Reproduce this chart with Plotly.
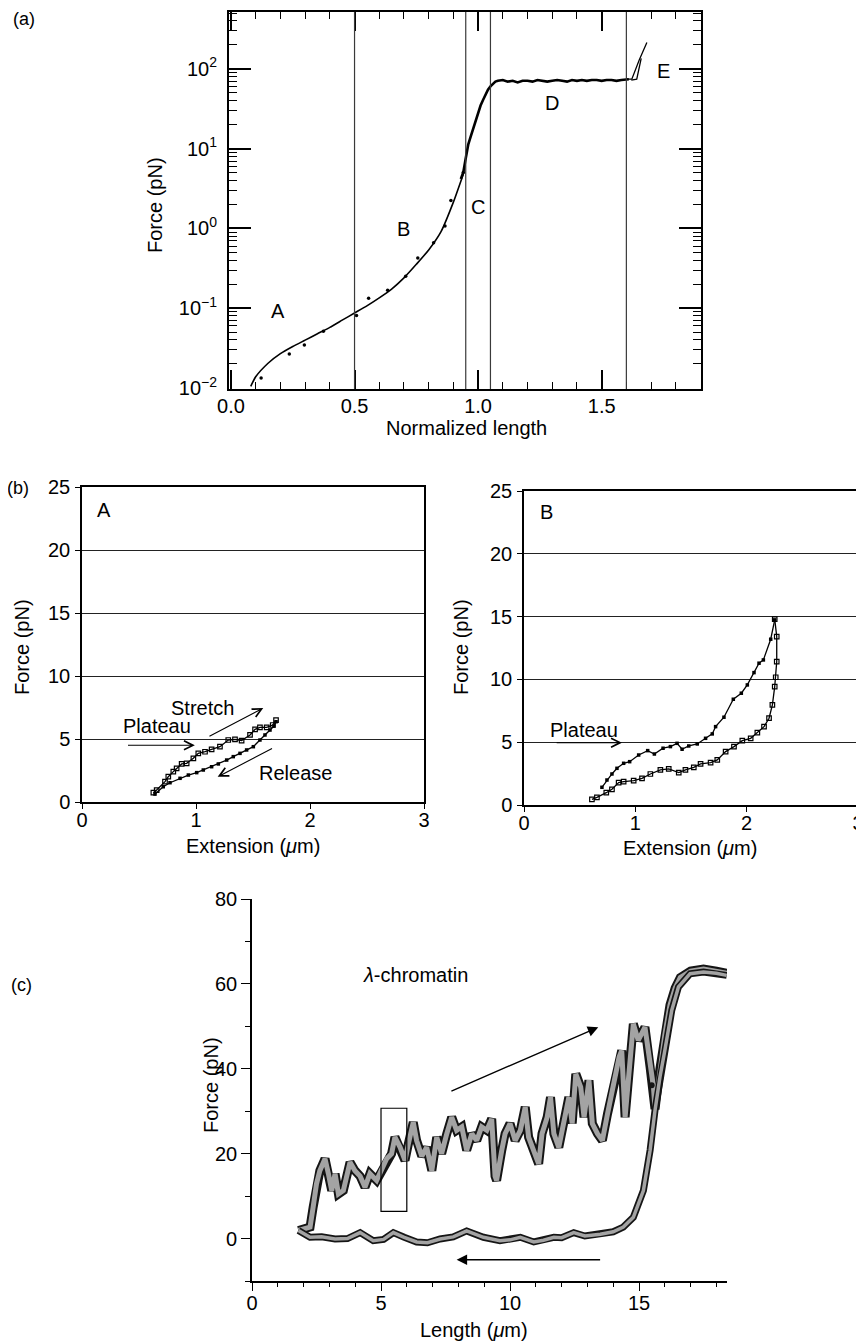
import numpy as np
import plotly.graph_objects as go

# The page body adds an 8 px margin, so the figure is 8 px smaller than the window
OFF = 8
W, H = 864 - OFF, 1343 - OFF
FONT = "Liberation Sans, Arial, Helvetica, sans-serif"
FS = 20

# ---------------- (a) data ----------------
a_fit_x = [0.08, 0.1, 0.15, 0.2, 0.25, 0.3, 0.35, 0.4, 0.45, 0.5, 0.55, 0.6,
           0.65, 0.7, 0.75, 0.8, 0.85, 0.9, 0.94]
a_fit_logf = [-1.98, -1.86, -1.69, -1.57, -1.48, -1.40, -1.32, -1.24, -1.15, -1.06,
              -0.97, -0.87, -0.76, -0.62, -0.45, -0.27, -0.04, 0.33, 0.68]
a_dots_x = [0.122, 0.236, 0.297, 0.374, 0.508, 0.557, 0.634, 0.707, 0.756,
            0.82, 0.866, 0.89, 0.94]
a_dots_logf = [-1.875, -1.575, -1.46, -1.29, -1.09, -0.875, -0.775, -0.60, -0.37,
               -0.18, 0.03, 0.35, 0.70]
a_data_x = [0.93, 0.94, 0.95, 0.96, 0.97, 0.98, 0.99, 1.0, 1.01, 1.02, 1.03, 1.04,
            1.05, 1.06, 1.07, 1.08, 1.10, 1.12, 1.14, 1.16, 1.18, 1.20, 1.22, 1.24,
            1.26, 1.28, 1.30, 1.32, 1.34, 1.36, 1.38, 1.40, 1.42, 1.44, 1.46, 1.48,
            1.50, 1.52, 1.54, 1.56, 1.58, 1.60, 1.61]
a_data_logf = [0.62, 0.70, 0.88, 1.05, 1.15, 1.25, 1.36, 1.46, 1.54, 1.61, 1.68, 1.74,
               1.78, 1.81, 1.84, 1.85, 1.86, 1.84, 1.85, 1.83, 1.85, 1.85, 1.84, 1.86,
               1.85, 1.84, 1.85, 1.86, 1.85, 1.84, 1.86, 1.85, 1.86, 1.85, 1.86, 1.86,
               1.85, 1.86, 1.86, 1.85, 1.86, 1.87, 1.87]
a_e_up_x = [1.60, 1.622, 1.652, 1.683]
a_e_up_logf = [1.87, 1.87, 2.11, 2.33]
a_e_down_x = [1.66, 1.642, 1.62]
a_e_down_logf = [2.13, 1.87, 1.86]
a_region_bounds = [0.5, 0.95, 1.05, 1.6]
a_labels = ["A", "B", "C", "D", "E"]
a_label_x = [0.192, 0.70, 1.0, 1.30, 1.75]
a_label_logf = [-1.03, -0.01, 0.27, 1.57, 1.97]
a_xticks = [0.0, 0.5, 1.0, 1.5]
a_xticktext = ["0.0", "0.5", "1.0", "1.5"]
a_yticks = [0.01, 0.1, 1, 10, 100]
a_yticktext = ["10<sup>\u22122</sup>", "10<sup>\u22121</sup>", "10<sup>0</sup>",
               "10<sup>1</sup>", "10<sup>2</sup>"]

# ---------------- (b) data ----------------
bA_stretch_x = [0.626, 0.655, 0.728, 0.757, 0.801, 0.83, 0.874, 0.918, 0.977, 1.02,
                1.079, 1.137, 1.21, 1.283, 1.342, 1.40, 1.474, 1.518, 1.561, 1.62,
                1.673, 1.702]
bA_stretch_y = [0.74, 0.95, 1.61, 2.01, 2.41, 2.67, 3.02, 3.07, 3.47, 3.86,
                3.99, 4.18, 4.39, 4.92, 4.97, 4.87, 5.32, 5.77, 5.93, 5.93,
                6.11, 6.50]
bA_release_x = [0.64, 0.713, 0.772, 0.86, 0.933, 1.006, 1.064, 1.137, 1.196, 1.269,
                1.327, 1.386, 1.444, 1.503, 1.561, 1.605, 1.649, 1.684, 1.702]
bA_release_y = [0.63, 1.21, 1.53, 1.88, 2.14, 2.33, 2.54, 2.80, 3.02, 3.33,
                3.60, 3.86, 4.13, 4.39, 4.92, 5.32, 5.71, 6.03, 6.37]

bB_upper_x = [0.70, 0.745, 0.79, 0.835, 0.895, 0.949, 1.03, 1.111, 1.171, 1.249,
              1.315, 1.375, 1.42, 1.48, 1.556, 1.631, 1.691, 1.721, 1.796, 1.88,
              1.952, 2.006, 2.066, 2.111, 2.15, 2.216, 2.252]
bB_upper_y = [1.41, 1.99, 2.47, 2.92, 3.32, 3.45, 3.98, 4.33, 4.06, 4.52,
              4.65, 4.91, 4.44, 4.70, 4.86, 5.31, 5.66, 6.24, 6.99, 8.42,
              8.90, 9.56, 10.54, 11.29, 11.55, 13.20, 14.74]
bB_lower_x = [0.61, 0.655, 0.739, 0.79, 0.85, 0.895, 0.985, 1.06, 1.135, 1.225,
              1.30, 1.39, 1.45, 1.525, 1.586, 1.676, 1.736, 1.811, 1.886, 1.961,
              2.036, 2.096, 2.156, 2.201, 2.231, 2.252, 2.261, 2.27, 2.27, 2.252]
bB_lower_y = [0.45, 0.61, 0.98, 1.25, 1.78, 1.86, 1.94, 2.12, 2.47, 2.79,
              2.87, 2.58, 2.79, 3.00, 3.27, 3.37, 3.59, 4.25, 4.65, 5.12,
              5.31, 5.76, 6.24, 6.91, 7.97, 9.43, 10.17, 11.42, 13.41, 14.80]
b_ticks_x = [0, 1, 2, 3]
b_ticks_y = [0, 5, 10, 15, 20, 25]

# ---------------- (c) data ----------------
c_stretch_x = [1.80, 2.25, 2.37, 2.50, 2.63, 2.83, 2.96, 3.09, 3.22, 3.35, 3.54, 3.67,
               3.80, 3.99, 4.19, 4.38, 4.57, 4.83, 5.03, 5.22, 5.41, 5.54, 5.74, 5.93,
               6.06, 6.25, 6.38, 6.58, 6.77, 6.97, 7.16, 7.35, 7.55, 7.74, 7.93, 8.13,
               8.32, 8.52, 8.71, 8.90, 9.10, 9.29, 9.42, 9.48, 9.68, 9.81, 10.0, 10.2,
               10.4, 10.59, 10.72, 10.92, 11.11, 11.24, 11.44, 11.57, 11.70, 11.89,
               12.09, 12.28, 12.41, 12.55, 12.74, 12.87, 13.06, 13.19, 13.39, 13.58,
               13.78, 14.04, 14.23, 14.33, 14.46, 14.78, 14.97, 15.23, 15.43, 15.56,
               15.62, 15.81, 16.0, 16.2, 16.4, 16.6, 17.0, 17.5, 18.0, 18.4]
c_stretch_y = [1.9, 2.7, 7.4, 12.9, 16.0, 18.8, 15.3, 11.3, 15.3, 10.5, 11.3, 15.3,
               18.0, 16.0, 14.7, 12.1, 15.3, 13.7, 16.0, 18.8, 20.0, 23.9, 21.5, 18.4,
               22.3, 27.4, 23.1, 19.4, 21.5, 16.0, 23.9, 20.0, 24.7, 28.6, 25.5, 26.3,
               20.8, 24.7, 23.1, 26.3, 25.5, 28.2, 14.7, 13.7, 20.8, 24.7, 27.1, 23.1,
               25.5, 31.0, 23.9, 20.8, 17.6, 24.7, 28.6, 33.3, 24.7, 21.5,
               27.1, 33.3, 27.1, 38.8, 35.7, 28.6, 37.3, 27.1, 24.7, 23.1,
               29.4, 37.3, 42.8, 44.3, 28.6, 50.6, 46.7, 49.8, 40.4, 35.7,
               30.5, 40.0, 48.0, 55.0, 59.0, 61.5, 63.0, 63.5, 63.0, 62.5]
c_release_x = [18.4, 18.0, 17.5, 16.98, 16.53, 16.27, 16.0, 15.81, 15.62, 15.43,
               15.17, 14.78, 14.39, 14.0, 13.5, 12.9, 12.47, 12.0, 11.70, 11.3,
               10.92, 10.4, 10.0, 9.61, 8.97, 8.32, 7.8, 7.29, 6.8, 6.38,
               5.9, 5.48, 5.1, 4.7, 4.19, 3.7, 3.22, 2.7, 2.25, 1.8]
c_release_y = [62.0, 62.5, 62.8, 62.4, 59.3, 53.8, 44.3, 38.0, 30.2, 20.8,
               11.3, 5.0, 2.7, 1.6, 1.0, 0.6, 1.4, 0.2, 0.3, -0.4,
               -0.8, 0.3, -0.3, -0.5, 0.3, 1.8, 0.4, -0.1, -1.0, -0.8,
               0.3, 1.4, -0.2, -0.5, 1.4, 0.0, -0.1, 0.4, 0.3, 1.9]
c_stray_x = [15.49]
c_stray_y = [36.1]
c_box = [5.0, 6.0, 6.4, 30.7]  # x0, x1, y0, y1
c_ticks_x = [0, 5, 10, 15]
c_ticks_y = [0, 20, 40, 60, 80]


def pw(px):
    return (px - OFF) / W


def ph(py):
    return 1 - (py - OFF) / H


fig = go.Figure()
black = "black"

# ---- (a) traces ----
fig.add_trace(go.Scatter(x=a_fit_x, y=10 ** np.array(a_fit_logf), mode="lines",
                         line=dict(color=black, width=1.6, shape="spline", smoothing=0.6),
                         xaxis="x", yaxis="y"))
fig.add_trace(go.Scatter(x=a_dots_x, y=10 ** np.array(a_dots_logf), mode="markers",
                         marker=dict(color=black, size=3.5), xaxis="x", yaxis="y"))
fig.add_trace(go.Scatter(x=a_data_x, y=10 ** np.array(a_data_logf), mode="lines",
                         line=dict(color=black, width=2.6), xaxis="x", yaxis="y"))
fig.add_trace(go.Scatter(x=a_e_up_x, y=10 ** np.array(a_e_up_logf), mode="lines",
                         line=dict(color=black, width=1.3), xaxis="x", yaxis="y"))
fig.add_trace(go.Scatter(x=a_e_down_x, y=10 ** np.array(a_e_down_logf), mode="lines",
                         line=dict(color=black, width=1.3), xaxis="x", yaxis="y"))

# ---- (b) traces ----
fig.add_trace(go.Scatter(x=bA_stretch_x, y=bA_stretch_y, mode="lines+markers",
                         line=dict(color=black, width=1.3),
                         marker=dict(symbol="square-open", size=4.5, color=black,
                                     line=dict(width=1.2)),
                         xaxis="x2", yaxis="y2"))
fig.add_trace(go.Scatter(x=bA_release_x, y=bA_release_y, mode="lines+markers",
                         line=dict(color=black, width=1.3),
                         marker=dict(symbol="square", size=3.5, color=black),
                         xaxis="x2", yaxis="y2"))
fig.add_trace(go.Scatter(x=bB_upper_x, y=bB_upper_y, mode="lines+markers",
                         line=dict(color=black, width=1.3),
                         marker=dict(symbol="square", size=3.5, color=black),
                         xaxis="x3", yaxis="y3"))
fig.add_trace(go.Scatter(x=bB_lower_x, y=bB_lower_y, mode="lines+markers",
                         line=dict(color=black, width=1.3),
                         marker=dict(symbol="square-open", size=4.5, color=black,
                                     line=dict(width=1.2)),
                         xaxis="x3", yaxis="y3"))

# ---- (c) traces ----
band_dark = "#151515"
band_grey = "#a3a3a3"
fig.add_trace(go.Scatter(x=c_stretch_x, y=c_stretch_y, mode="lines",
                         line=dict(color=band_dark, width=9), xaxis="x4", yaxis="y4"))
fig.add_trace(go.Scatter(x=c_stretch_x, y=c_stretch_y, mode="lines",
                         line=dict(color=band_grey, width=5), xaxis="x4", yaxis="y4"))
fig.add_trace(go.Scatter(x=c_release_x, y=c_release_y, mode="lines",
                         line=dict(color=band_dark, width=7), xaxis="x4", yaxis="y4"))
fig.add_trace(go.Scatter(x=c_release_x, y=c_release_y, mode="lines",
                         line=dict(color=band_grey, width=3.5), xaxis="x4", yaxis="y4"))
fig.add_trace(go.Scatter(x=c_stray_x, y=c_stray_y, mode="markers",
                         marker=dict(color=band_dark, size=6), xaxis="x4", yaxis="y4"))

# ---- shapes ----
shapes = []
for xb in a_region_bounds:
    shapes.append(dict(type="line", xref="x", yref="y domain", x0=xb, x1=xb, y0=0, y1=1,
                       line=dict(color="#3a3a3a", width=1.2)))
shapes.append(dict(type="rect", xref="x4", yref="y4", x0=c_box[0], x1=c_box[1],
                   y0=c_box[2], y1=c_box[3], line=dict(color=black, width=1.2)))

# ---- annotations ----
ann = []
tf = dict(family=FONT, size=FS, color=black)
cen = dict(xanchor="center", yanchor="middle", showarrow=False)
for lab, lx, ly in zip(a_labels, a_label_x, a_label_logf):
    ann.append(dict(text=lab, x=lx, y=ly, xref="x", yref="y", font=tf, **cen))

# panel labels
pf = dict(family=FONT, size=18, color=black)
ann.append(dict(text="(a)", x=pw(24), y=ph(19), xref="paper", yref="paper", font=pf, **cen))
ann.append(dict(text="(b)", x=pw(18), y=ph(488), xref="paper", yref="paper", font=pf, **cen))
ann.append(dict(text="(c)", x=pw(22), y=ph(985), xref="paper", yref="paper", font=pf, **cen))

# axis titles
ann.append(dict(text="Force (pN)", x=pw(155), y=ph(205), xref="paper", yref="paper",
                textangle=-90, font=tf, **cen))
ann.append(dict(text="Normalized length", x=pw(466), y=ph(428), xref="paper", yref="paper",
                font=tf, **cen))
ann.append(dict(text="Force (pN)", x=pw(22), y=ph(647), xref="paper", yref="paper",
                textangle=-90, font=tf, **cen))
ann.append(dict(text="Extension (<i>\u03bc</i>m)", x=pw(253), y=ph(846), xref="paper",
                yref="paper", font=tf, **cen))
ann.append(dict(text="Force (pN)", x=pw(461), y=ph(647), xref="paper", yref="paper",
                textangle=-90, font=tf, **cen))
ann.append(dict(text="Extension (<i>\u03bc</i>m)", x=pw(690), y=ph(848), xref="paper",
                yref="paper", font=tf, **cen))
ann.append(dict(text="Force (pN)", x=pw(211), y=ph(1085), xref="paper", yref="paper",
                textangle=-90, font=tf, **cen))
ann.append(dict(text="Length (<i>\u03bc</i>m)", x=pw(474), y=ph(1330), xref="paper",
                yref="paper", font=tf, **cen))

# (b) A texts and arrows
ann.append(dict(text="A", x=0.19, y=23.2, xref="x2", yref="y2", font=tf, **cen))
ann.append(dict(text="Stretch", x=1.057, y=7.43, xref="x2", yref="y2", font=tf, **cen))
ann.append(dict(text="Plateau", x=0.66, y=6.0, xref="x2", yref="y2", font=tf, **cen))
ann.append(dict(text="Release", x=1.87, y=2.28, xref="x2", yref="y2", font=tf, **cen))
arrow_common = dict(text="", showarrow=True, arrowhead=5, arrowsize=1.6, arrowwidth=1.1,
                    arrowcolor=black, standoff=0, startstandoff=0)
ann.append(dict(x=1.59, y=7.46, ax=1.105, ay=5.15, xref="x2", yref="y2",
                axref="x2", ayref="y2", **arrow_common))
ann.append(dict(x=0.99, y=4.5, ax=0.39, ay=4.5, xref="x2", yref="y2",
                axref="x2", ayref="y2", **arrow_common))
ann.append(dict(x=1.19, y=2.0, ax=1.68, ay=4.3, xref="x2", yref="y2",
                axref="x2", ayref="y2", **arrow_common))
# (b) B
ann.append(dict(text="B", x=0.2, y=23.3, xref="x3", yref="y3", font=tf, **cen))
ann.append(dict(text="Plateau", x=0.54, y=6.0, xref="x3", yref="y3", font=tf, **cen))
ann.append(dict(x=0.88, y=4.96, ax=0.28, ay=4.96, xref="x3", yref="y3",
                axref="x3", ayref="y3", **arrow_common))
# (c)
ann.append(dict(text="<i>\u03bb</i>-chromatin", x=6.32, y=62.0, xref="x4", yref="y4",
                font=tf, **cen))
arrow_c = dict(text="", showarrow=True, arrowhead=2, arrowsize=1.5, arrowwidth=1.4,
               arrowcolor=black, standoff=0, startstandoff=0)
ann.append(dict(x=13.42, y=49.8, ax=7.67, ay=34.6, xref="x4", yref="y4",
                axref="x4", ayref="y4", **arrow_c))
ann.append(dict(x=7.93, y=-5.0, ax=13.55, ay=-5.0, xref="x4", yref="y4",
                axref="x4", ayref="y4", **arrow_c))

tickfont = dict(family=FONT, size=FS, color=black)
a_minor_y = [m * 10.0 ** e for e in range(-2, 3) for m in range(2, 10) if m * 10.0 ** e < 520]
a_minor_x = [v / 10 for v in range(1, 20) if v % 5 != 0]

box_a = dict(showline=True, linecolor=black, linewidth=2, mirror="ticks",
             showgrid=False, zeroline=False, ticks="inside", tickcolor=black,
             tickfont=tickfont, automargin=False)

common_b = dict(ticks="outside", ticklen=5, tickcolor=black, showline=True,
                linecolor=black, linewidth=1.5, mirror=True, zeroline=False,
                tickfont=tickfont, automargin=False, ticklabeloverflow="allow")

fig.update_layout(
    template="none",
    width=W, height=H, margin=dict(l=0, r=0, t=0, b=0, autoexpand=False),
    paper_bgcolor="white", plot_bgcolor="white", showlegend=False,
    font=dict(family=FONT, size=FS, color=black),
    xaxis=dict(domain=[pw(229), pw(701)], range=[-0.008, 1.902], anchor="y",
               tickmode="array", tickvals=a_xticks, ticktext=a_xticktext,
               ticklen=19, tickwidth=1.5, ticklabelstandoff=-2,
               minor=dict(tickmode="array", tickvals=a_minor_x, ticklen=7,
                          ticks="inside", tickcolor=black, tickwidth=1.2),
               **box_a),
    yaxis=dict(domain=[ph(389), ph(12)], type="log", range=[-2.0125, 2.7125], anchor="x",
               tickmode="array", tickvals=a_yticks, ticktext=a_yticktext,
               ticklen=22, tickwidth=1.5, ticklabelstandoff=6,
               minor=dict(tickmode="array", tickvals=a_minor_y, ticklen=8,
                          ticks="inside", tickcolor=black, tickwidth=1.2),
               **box_a),
    xaxis2=dict(domain=[pw(82), pw(424)], range=[0, 3], anchor="y2",
                tickmode="array", tickvals=b_ticks_x, showgrid=False,
                ticklabelstandoff=-6, **common_b),
    yaxis2=dict(domain=[ph(802), ph(487)], range=[0, 25], anchor="x2",
                tickmode="array", tickvals=b_ticks_y, showgrid=True,
                gridcolor="#222222", gridwidth=1.2, ticklabelstandoff=1, **common_b),
    xaxis3=dict(domain=[pw(524), pw(858)], range=[0, 3], anchor="y3",
                tickmode="array", tickvals=b_ticks_x, showgrid=False,
                ticklabelstandoff=-6, **common_b),
    yaxis3=dict(domain=[ph(805), ph(491)], range=[0, 25], anchor="x3",
                tickmode="array", tickvals=b_ticks_y, showgrid=True,
                gridcolor="#222222", gridwidth=1.2, ticklabelstandoff=1, **common_b),
    xaxis4=dict(domain=[pw(252), pw(727)], range=[0, 18.41], anchor="y4",
                tickmode="array", tickvals=c_ticks_x, ticks="outside", ticklen=8,
                tickcolor=black, tickwidth=1.3, showline=True, linecolor=black,
                linewidth=1.6, showgrid=False, zeroline=False, tickfont=tickfont,
                automargin=False, ticklabelstandoff=-5,
                minor=dict(dtick=1, ticklen=4, ticks="outside", tickcolor=black)),
    yaxis4=dict(domain=[ph(1281), ph(899)], range=[-10, 80], anchor="x4",
                tickmode="array", tickvals=c_ticks_y, ticks="outside", ticklen=9,
                tickcolor=black, tickwidth=1.3, showline=True, linecolor=black,
                linewidth=1.6, showgrid=False, zeroline=False, tickfont=tickfont,
                automargin=False,
                minor=dict(dtick=10, tick0=0, ticklen=5, ticks="outside", tickcolor=black)),
    shapes=shapes,
    annotations=ann,
)

fig.write_html("out.html")
